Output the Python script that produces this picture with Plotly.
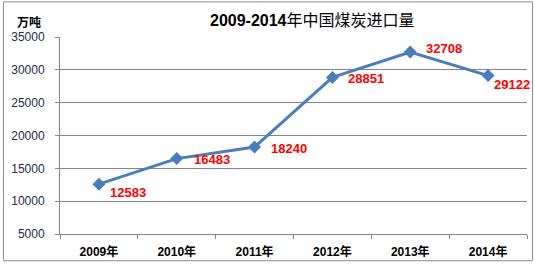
import plotly.graph_objects as go

years = ["2009年", "2010年", "2011年", "2012年", "2013年", "2014年"]
imports = [12583, 16483, 18240, 28851, 32708, 29122]
y_ticks = [5000, 10000, 15000, 20000, 25000, 30000, 35000]

# label offsets (pixels) for each data label
label_dx = [9, 15, 14, 14, 14, 4]
label_dy = [-8, -1, -1, -1, 4, -9]

W, H = 535, 267
L, R, T, B = 60, 8, 37, 31
pw, ph = W - L - R, H - T - B

fig = go.Figure()
fig.add_trace(go.Scatter(
    x=years, y=imports, mode="lines+markers",
    line=dict(color="#4a7ebb", width=3),
    marker=dict(symbol="diamond", size=10, color="#4a7ebb"),
    hoverinfo="skip", showlegend=False,
))

for i, (yr, v) in enumerate(zip(years, imports)):
    fig.add_annotation(
        x=yr, y=v, text="<b>%d</b>" % v, showarrow=False,
        xanchor="left", yanchor="middle", xshift=label_dx[i], yshift=label_dy[i],
        font=dict(family="Liberation Sans, Arial", size=13, color="#ff0000"),
    )

def px_x(p):
    return (p - L) / pw

def px_y(p):
    return (H - B - p) / ph

# outer frame
fig.add_shape(type="rect", xref="paper", yref="paper",
              x0=px_x(3.5), x1=px_x(532.5), y0=px_y(263), y1=px_y(1.5),
              line=dict(color="#8c8c8c", width=1))

fig.add_annotation(
    x=px_x(312), y=px_y(20), xref="paper", yref="paper", showarrow=False,
    text="<b>2009-2014</b>年中国煤炭进口量", xanchor="center", yanchor="middle",
    font=dict(family="Liberation Sans, Noto Sans CJK SC", size=16, color="#000000"),
)
fig.add_annotation(
    x=px_x(29), y=px_y(21), xref="paper", yref="paper", showarrow=False,
    text="<b>万吨</b>", xanchor="center", yanchor="middle",
    font=dict(family="Noto Sans CJK SC", size=12, color="#000000"),
)

fig.update_layout(
    width=W, height=H, margin=dict(l=L, r=R, t=T, b=B),
    paper_bgcolor="white", plot_bgcolor="white",
    xaxis=dict(
        type="category", showgrid=False, showline=True, linecolor="#868686", linewidth=1,
        ticks="outside", ticklen=4, tickcolor="#868686", tickson="boundaries",
        ticklabelstandoff=7,
        tickfont=dict(family="Liberation Sans, Noto Sans CJK SC", size=12, color="#000000", weight="bold"),
        range=[-0.5, 5.5], fixedrange=True,
    ),
    yaxis=dict(
        range=[5000, 35000], tickvals=y_ticks, ticktext=[str(t) for t in y_ticks],
        showgrid=True, gridcolor="#868686", gridwidth=1,
        showline=True, linecolor="#868686", linewidth=1,
        ticks="outside", ticklen=4, tickcolor="#868686",
        ticklabelstandoff=8,
        tickfont=dict(family="Liberation Sans, Arial", size=12, color="#1c2b4a"),
        zeroline=False, fixedrange=True,
    ),
)

fig.write_html("out.html")
